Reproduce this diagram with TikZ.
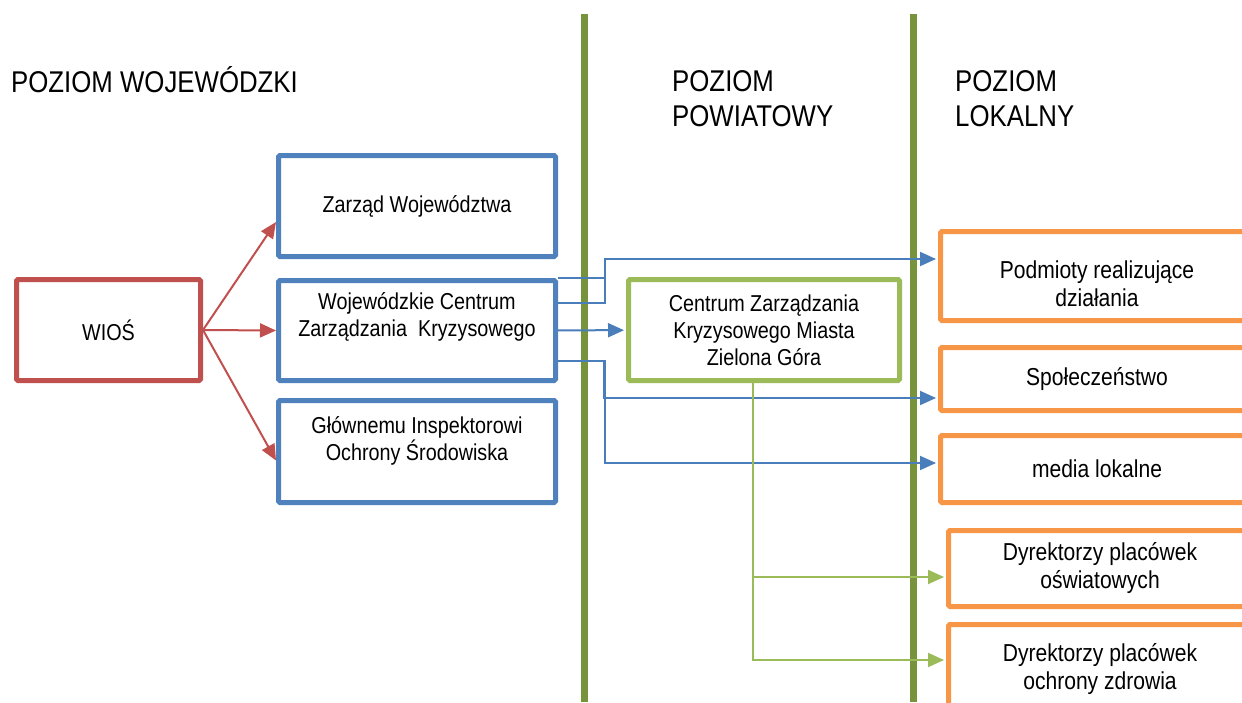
\documentclass[tikz,border=0pt]{standalone}
\usepackage{fontspec}
\setmainfont[FakeStretch=0.86]{Liberation Sans}
\usepackage{tikz}
\usetikzlibrary{arrows.meta, positioning}
\definecolor{wojred}{HTML}{C0504D}
\definecolor{wojblue}{HTML}{4F81BD}
\definecolor{linkblue}{HTML}{4A7EBB}
\definecolor{powgreen}{HTML}{9BBB59}
\definecolor{lokorange}{HTML}{F79646}
\definecolor{divgreen}{HTML}{77933C}

\begin{document}
\begin{tikzpicture}[x=1pt,y=-1pt]
        \useasboundingbox (0,0) rectangle (1242,702);
        \clip (0,0) rectangle (1242,702);
        % naglowki poziomow
        \begin{scope}[every node/.style={inner sep=0pt,font=\fontsize{30}{35}\selectfont}]
          \node[anchor=base west] (hwoj) at (11,92) {POZIOM WOJEWÓDZKI};
          \node[anchor=north west,align=left] (hpow) at (672,70) {POZIOM\\POWIATOWY};
          \node[anchor=north west,align=left] (hlok) at (955,70) {POZIOM\\LOKALNY};
        \end{scope}
        % linie podzialu
        \draw[divgreen,line width=7pt] (584,14) -- (584,702);
        \draw[divgreen,line width=7pt] (913,14) -- (913,702);
        \begin{scope}[every node/.style={draw,line width=5pt,rounded corners=1.5pt,inner sep=0pt,
                      align=center,font=\fontsize{23}{27}\selectfont},
                      lok/.style={draw=lokorange,font=\fontsize{24.5}{28}\selectfont}]
          \node[draw=wojred,minimum width=184pt,minimum height=101pt] (wios) at (108.5,330) {WIOŚ};
          \node[draw=wojblue,minimum width=277pt,minimum height=101pt] (zarzad) at (417,206) {Zarząd Województwa};
          \node[draw=wojblue,minimum width=277pt,minimum height=100pt,
                label={[draw=none,yshift=14pt]center:{Wojewódzkie Centrum\\Zarządzania\ \ Kryzysowego}}] (wczk) at (417,330.5) {};
          \node[draw=wojblue,minimum width=277pt,minimum height=102pt,
                label={[draw=none,yshift=11pt]center:{Głównemu Inspektorowi\\Ochrony Środowiska}}] (gios) at (417,451.5) {};
          \node[draw=powgreen,minimum width=271pt,minimum height=101pt] (czk) at (764,330) {Centrum Zarządzania\\Kryzysowego Miasta\\Zielona Góra};
          \node[lok,minimum width=313pt,minimum height=89pt,
                label={[draw=none,yshift=-8pt,font=\fontsize{24.5}{28}\selectfont]center:{Podmioty realizujące\\działania}}] (podmioty) at (1097,276) {};
          \node[lok,minimum width=313pt,minimum height=63pt] (spol) at (1097,379) {Społeczeństwo};
          \node[lok,minimum width=313pt,minimum height=67pt] (media) at (1097,469) {media lokalne};
          \node[lok,minimum width=303pt,minimum height=76pt] (dyr1) at (1100,568.5) {Dyrektorzy placówek\\oświatowych};
          \node[lok,minimum width=303pt,minimum height=89pt] (dyr2) at (1100,669) {Dyrektorzy placówek\\ochrony zdrowia};
        \end{scope}
        \begin{scope}[every edge/.style={draw=wojred,line width=2pt,-{Triangle[length=16pt,width=14pt]}}]
          \path (wios.east) edge ([yshift=-16pt]zarzad.west);
          \path (wios.east) edge (wczk.west);
          \path (wios.east) edge ([yshift=-9pt]gios.west);
        \end{scope}
        \begin{scope}[every edge/.style={draw=linkblue,line width=2pt,shorten >=2pt,-{Triangle[length=16pt,width=14pt]}}]
          \draw[linkblue,line width=2pt] ([yshift=53pt]wczk.east) -- ++(47,0);
          \path ([yshift=28pt]wczk.east) edge[to path={-- ++(47,0) |- (\tikztotarget)}] ([yshift=17pt]podmioty.west);
          \path (wczk) edge (czk);
          \path ([yshift=-30pt]wczk.east) edge[to path={-- ++(46,0) |- (\tikztotarget)}] ([yshift=-19pt]spol.west);
          \path ([yshift=-30pt]wczk.east) edge[to path={-- ++(47,0) |- (\tikztotarget)}] ([yshift=6pt]media.west);
        \end{scope}
        \begin{scope}[every edge/.style={draw=powgreen,line width=2pt,shorten >=2pt,-{Triangle[length=16pt,width=14pt]}}]
          \path ([xshift=-11pt]czk.south) edge[to path={|- (\tikztotarget)}] ([yshift=-8.5pt]dyr1.west);
          \path ([xshift=-11pt]czk.south) edge[to path={|- (\tikztotarget)}] ([yshift=9pt]dyr2.west);
        \end{scope}
      \end{tikzpicture}
\end{document}
